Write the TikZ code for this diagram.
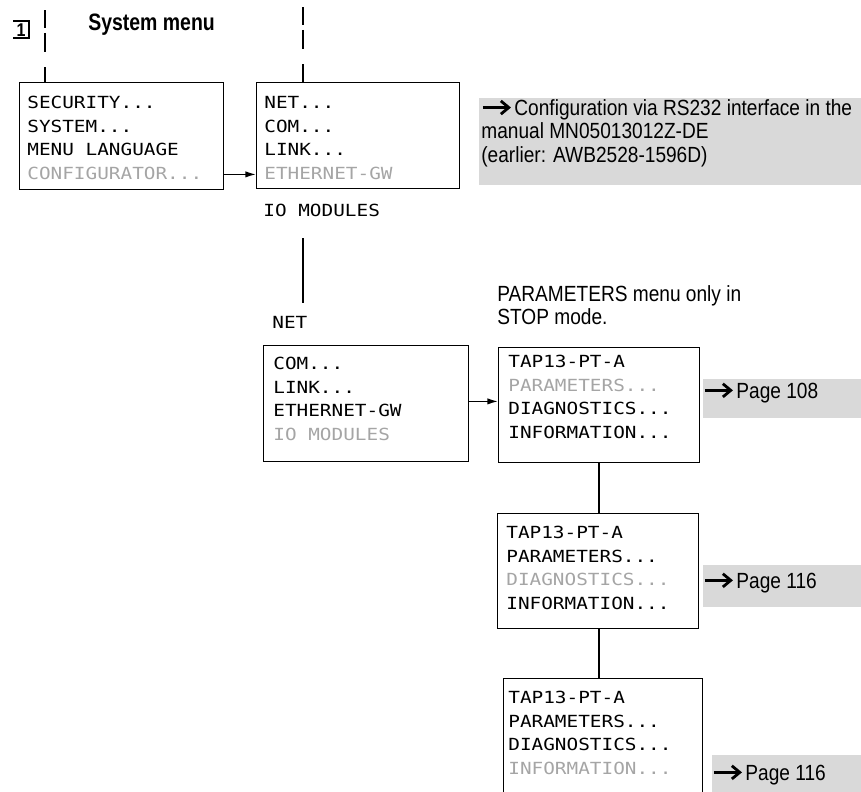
\documentclass[tikz,border=0pt]{standalone}
\usepackage{fontspec}
\usetikzlibrary{arrows.meta}
\newfontfamily\notefont[FakeStretch=0.87]{Liberation Sans}
\newfontfamily\headfont[FakeStretch=0.82]{Liberation Sans}
\newfontfamily\lcdfont[FakeStretch=1.16]{DejaVu Sans Mono}
\definecolor{lcdgray}{RGB}{165,165,165}
\definecolor{notegray}{RGB}{217,217,217}
\newcommand{\grayed}[1]{\textcolor{lcdgray}{#1}}
\newcommand{\seearrow}{\tikz[baseline=-4.4pt]\draw[line width=1.7pt,-{Straight Barb[length=4.5pt,width=7.5pt,line width=1.6pt]}] (0pt,0pt) -- (16pt,0pt);}
\tikzset{
  menubox/.style={draw,line width=0.8pt,anchor=north west,inner sep=0pt},
  menutext/.style={anchor=north west,inner sep=0pt,align=left,font={\lcdfont\fontsize{9.5}{13.4}\selectfont}},
  lcdlabel/.style={anchor=west,inner sep=0pt,font={\lcdfont\fontsize{9.5}{13.4}\selectfont}},
  notebox/.style={fill=notegray,anchor=north west,inner sep=0pt},
  notetext/.style={anchor=north west,inner sep=0pt,align=left,font={\notefont\fontsize{12.5}{13.3}\selectfont}},
  conn/.style={line width=0.8pt},
  dashline/.style={line width=0.8pt,dash pattern=on 10pt off 3pt on 11pt off 8.5pt}
}
\begin{document}
\begin{tikzpicture}[x=0.02cm,y=-0.02cm,>={Latex[length=6pt,width=3.6pt]}]%System menu, configurator
\useasboundingbox (0,0) rectangle (861,791);
% step number and heading
\node[font={\notefont\bfseries\fontsize{10.5}{10}\selectfont}] (stepno) at (21,30) {1};
\draw[line width=0.7pt] (13,21) -- (29,21) -- (29,38) -- (13,38);
\node[anchor=west,inner sep=0pt,font={\headfont\bfseries\fontsize{13.5}{13}\selectfont}] (title) at (88,25) {System menu};
\coordinate (dl) at (45,10);
\coordinate (dr) at (303,7);
% menu displays
\node[menubox,minimum width=4.08cm,minimum height=2.14cm] (sysbox) at (19,82) {};
\node[menutext] (systxt) at (27,96) {SECURITY...\\SYSTEM...\\MENU LANGUAGE\\\grayed{CONFIGURATOR...}};
\node[menubox,minimum width=4.06cm,minimum height=2.12cm] (cfgbox) at (256,82) {};
\node[menutext] (cfgtxt) at (264,96) {NET...\\COM...\\LINK...\\\grayed{ETHERNET-GW}};
\node[lcdlabel] (iomod) at (263,210) {IO MODULES};
\coordinate (lnA) at (303,238);
\coordinate (lnB) at (303,303);
\node[lcdlabel] (netlbl) at (272,322) {NET};
\node[menubox,minimum width=4.1cm,minimum height=2.32cm] (netbox) at (263,345) {};
\node[menutext] (nettxt) at (273,357) {COM...\\LINK...\\ETHERNET-GW\\\grayed{IO MODULES}};
\node[notetext] (stopnote) at (497,285) {PARAMETERS menu only in\\STOP mode.};
\node[menubox,minimum width=4.02cm,minimum height=2.3cm] (tapbox) at (498,347) {};
\node[menutext] (taptxt) at (508,355) {TAP13-PT-A\\\grayed{PARAMETERS...}\\DIAGNOSTICS...\\INFORMATION...};
\node[menubox,minimum width=4.02cm,minimum height=2.3cm] (diagbox) at (497,513) {};
\node[menutext] (diagtxt) at (506,526) {TAP13-PT-A\\PARAMETERS...\\\grayed{DIAGNOSTICS...}\\INFORMATION...};
\node[menubox,minimum width=3.98cm,minimum height=3cm] (infobox) at (503,678) {};
\node[menutext] (infotxt) at (508,691) {TAP13-PT-A\\PARAMETERS...\\DIAGNOSTICS...\\\grayed{INFORMATION...}};
% references
\node[notebox,minimum width=8cm,minimum height=1.74cm] (rsnote) at (479,98) {};
\node[notetext] (rstxt) at (481,99) {\seearrow\hspace{1pt}Configuration via RS232 interface in the\\manual MN05013012Z-DE\\(earlier: AWB2528-1596D)};
\node[notebox,minimum width=4cm,minimum height=0.78cm] (p108) at (703,379) {};
\node[notetext] (p108txt) at (703,382) {\seearrow\hspace{1pt}Page 108};
\node[notebox,minimum width=4cm,minimum height=0.84cm] (p116a) at (703,565) {};
\node[notetext] (p116atxt) at (703,572) {\seearrow\hspace{1pt}Page 116};
\node[notebox,minimum width=4cm,minimum height=1cm] (p116b) at (712,755) {};
\node[notetext] (p116btxt) at (712,764) {\seearrow\hspace{1pt}Page 116};
% connections
\draw[dashline] (dl) -- (dl |- sysbox.north);
\draw[dashline] (dr) -- (dr |- cfgbox.north);
\coordinate (a1) at ([yshift=0.32cm]sysbox.south east);
\draw[conn,->] (a1) -- (a1 -| cfgbox.west);
\draw[conn] (lnA) -- (lnB);
\coordinate (a2) at ([yshift=1.22cm]netbox.south east);
\draw[conn,->] (a2) -- (a2 -| tapbox.west);
\draw[conn] (tapbox.south) -- (tapbox.south |- diagbox.north);
\draw[conn] (tapbox.south |- diagbox.south) -- (tapbox.south |- infobox.north);
\end{tikzpicture}
\end{document}
